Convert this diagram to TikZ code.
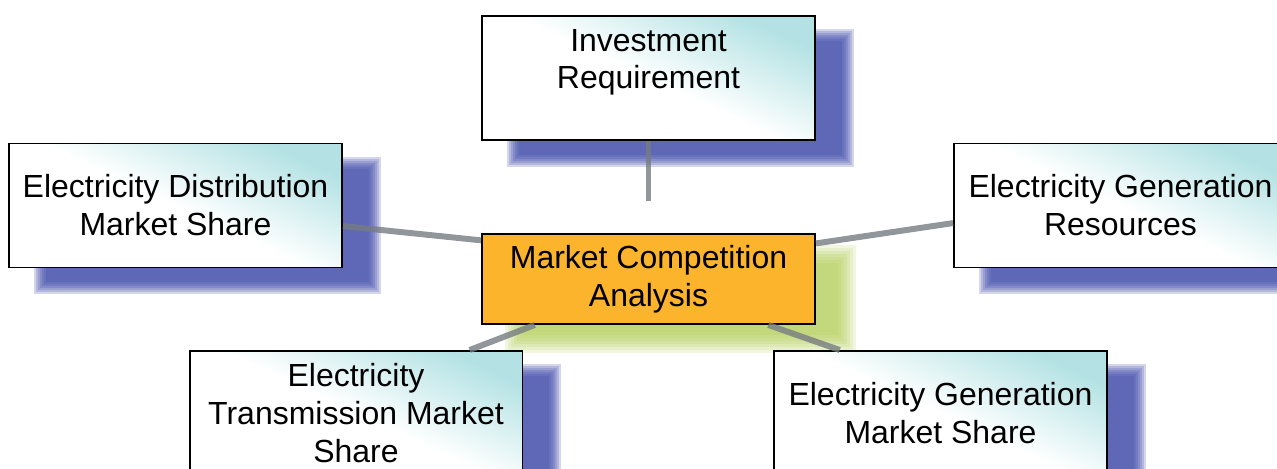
\documentclass[tikz,border=0pt]{standalone}
\usepackage{fontspec}
\setmainfont{Liberation Sans}
\usepackage{xcolor}
\usepackage{tikz}
\usetikzlibrary{calc,backgrounds}
\definecolor{shadowblue}{RGB}{60,72,168}
\definecolor{shadowgreen}{RGB}{170,200,70}
\definecolor{core}{RGB}{251,180,44}
\definecolor{tint}{RGB}{180,226,228}
\definecolor{linkgray}{RGB}{118,124,130}
\tikzset{
  topic/.style={draw=black, line width=1.1pt, align=center, inner sep=0pt,
    minimum width=6.66cm, minimum height=2.48cm,
    top color=tint, bottom color=white, middle color=white, shading angle=-25},
  hub/.style={draw=black, line width=1.1pt, align=center, inner sep=0pt,
    minimum width=6.66cm, minimum height=1.8cm, fill=core},
  link/.style={draw=linkgray, line width=3.4pt, draw opacity=.8},
  blur/.style={fill opacity=.22}
}
\begin{document}
\begin{tikzpicture}[x=0.02cm, y=-0.02cm, font={\fontsize{18.2}{21.6}\selectfont}]
  \useasboundingbox (0,0) rectangle (1277,469);
  \clip (0,0) rectangle (1277,469);
  \node[topic] (inv) at (648.5,78) {Investment\\Requirement\\\mbox{}};
  \node[topic] (dist) at (175.5,205.5) {Electricity Distribution\\Market Share};
  \node[topic] (res) at (1120.5,205.5) {Electricity Generation\\Resources};
  \node[topic] (trans) at (356,413) {Electricity\\Transmission Market\\Share};
  \node[topic] (share) at (940.5,413) {Electricity Generation\\Market Share};
  \node[hub] (centre) at (648.5,279) {Market Competition\\Analysis};
  \coordinate (stub) at (648.5,201);
  % shadows
  \begin{scope}[on background layer]
    \foreach \b/\c in {inv/shadowblue, dist/shadowblue, res/shadowblue, trans/shadowblue, share/shadowblue}
      \foreach \e in {6,4,2,0,-2,-4,-6}
        \fill[\c, blur] ($(\b.north west)+(32-\e,20-\e)$) rectangle ($(\b.south east)+(32+\e,20+\e)$);
    \foreach \e in {8,5,2,-1,-4,-7,-10}
      \fill[shadowgreen, fill opacity=.16] ($(centre.north west)+(32-\e,20-\e)$) rectangle ($(centre.south east)+(32+\e,20+\e)$);
  \end{scope}
  \draw[link] (inv.south) -- (stub);
  \draw[link] (centre.167.5) -- (dist.-7);
  \draw[link] (centre.12.5) -- (res.186);
  \draw[link] (centre.202) -- (trans.29);
  \draw[link] (centre.-21.5) -- (share.148);
\end{tikzpicture}
\end{document}
